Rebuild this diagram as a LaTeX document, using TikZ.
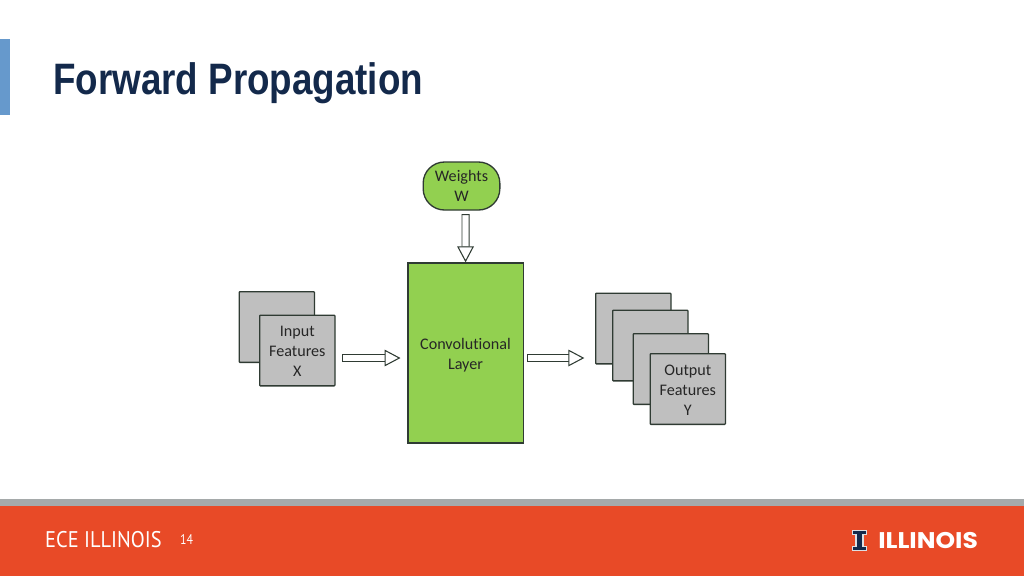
\documentclass[tikz,border=0pt]{standalone}
\usepackage{fontspec}
\setmainfont[Ligatures=NoCommon]{Carlito}
\newfontfamily\titlefont{Liberation Sans}
\newfontfamily\footfont{PT Sans}
\newfontfamily\logofont{Poppins}
\usetikzlibrary{positioning, arrows.meta, calc}
\definecolor{slideblue}{HTML}{6699CC}
\definecolor{titleblue}{HTML}{13294B}
\definecolor{footorange}{HTML}{E84A27}
\definecolor{footgray}{HTML}{A5A9AA}
\definecolor{layergreen}{HTML}{92D050}
\definecolor{mapgray}{HTML}{BFBFBF}
\definecolor{edgegray}{HTML}{2F3B33}
\newcommand{\labeldrop}[1]{\rule{0pt}{#1}}
\tikzset{
  featuremap/.style={draw=edgegray, line width=1pt, fill=mapgray, rounded corners=0.6pt,
    minimum width=56.5pt, minimum height=53pt, inner sep=0pt, align=center, anchor=north west,
    text=black!85, font=\fontsize{12.1}{15}\selectfont},
  greenbox/.style={draw=edgegray, line width=1pt, fill=layergreen, inner sep=0pt, align=center,
    text=black!85, font=\fontsize{12.1}{15}\selectfont},
  blockarrow/.style={draw=edgegray, line width=0.7pt, double=white, double distance=4.6pt,
    {Bar[width=6pt,line width=0.8pt]}-{Triangle[open,fill=white,length=12pt,width=12.5pt,line width=0.8pt]}},
  foottext/.style={text=white, inner sep=0pt}
}
\begin{document}
\begin{tikzpicture}[x=0.75pt, y=-0.75pt]
  \useasboundingbox (0,0) rectangle (1024,576);
  % Header
  \fill[slideblue] (0,39) rectangle (10,115);
  \node[anchor=west, inner sep=0pt, text=titleblue, xscale=0.836] (title) at (53,83)
    {\titlefont\bfseries\fontsize{33}{36}\selectfont Forward Propagation};
  % Footer
  \fill[footgray] (0,499) rectangle (1024,506);
  \fill[footorange] (0,506) rectangle (1024,576);
  \node[foottext, anchor=west, xscale=0.9] (footer) at (45,540)
    {\footfont\fontsize{17}{18}\selectfont ECE ILLINOIS};
  \node[foottext, anchor=west, xscale=0.85] (page) at (180,540)
    {\footfont\fontsize{10.5}{12}\selectfont 14};
  % Block I of the logo
  \draw[titleblue, fill=titleblue, line width=0.9pt, draw=white!85!titleblue]
    (852.5,530.5) -- (866.5,530.5) -- (866.5,534.5) -- (863,534.5) -- (863,546.5) -- (866.5,546.5)
    -- (866.5,550.5) -- (852.5,550.5) -- (852.5,546.5) -- (856,546.5) -- (856,534.5) -- (852.5,534.5) -- cycle;
  \node[foottext, anchor=west, xscale=1.1] (logo) at (878,540.5)
    {\logofont\bfseries\fontsize{17}{18}\selectfont ILLINOIS};
  % Weights and layer
  \node[greenbox, rounded corners=16pt, minimum width=57.5pt, minimum height=36pt] (weights) at (461.5,186)
    {Weights\\W};
  \node[greenbox, minimum width=86.5pt, minimum height=135pt] (conv) at (465.5,353)
    {\labeldrop{11.5pt}Convolutional\\Layer};
  % Input stack
  \node[featuremap] (inback) at (238.5,291) {};
  \node[featuremap] (infront) at (259,314.5) {\labeldrop{9.4pt}Input\\Features\\X};
  % Output stack
  \node[featuremap] (outa) at (595,292.5) {};
  \node[featuremap] (outb) at (612,309.5) {};
  \node[featuremap] (outc) at (632.5,333) {};
  \node[featuremap] (outd) at (649.5,353) {\labeldrop{9pt}Output\\Features\\Y};
  % Arrows
  \coordinate (flow) at (0,358);
  \coordinate (drop) at (465.5,0);
  \draw[blockarrow, shorten <=2.5pt] (weights.south -| drop) -- ([xshift=0.05pt]conv.north);
  \draw[blockarrow, shorten <=4.5pt, shorten >=5pt] (infront.east |- flow) -- (conv.west |- flow);
  \draw[blockarrow, shorten <=2pt, shorten >=8pt] (conv.east |- flow) -- (outa.west |- flow);
\end{tikzpicture}
\end{document}
